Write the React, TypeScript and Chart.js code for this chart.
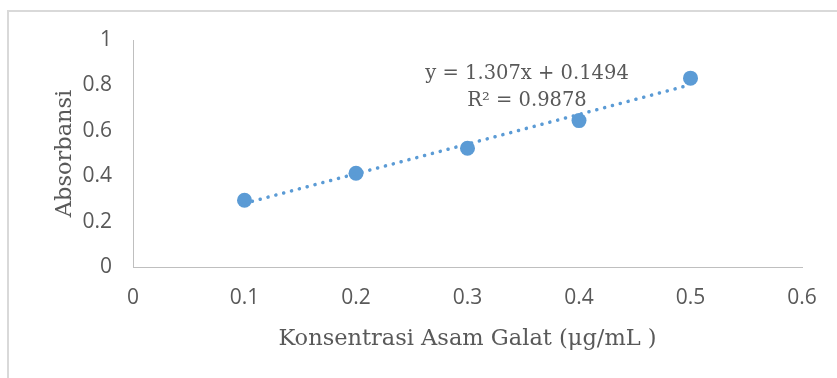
import React, { useEffect, useRef } from "react";
import { Chart, registerables } from "chart.js";

Chart.register(...registerables);

// ---- data ----
const concentrations = [0.1, 0.2, 0.3, 0.4, 0.5];
const absorbances = [0.294, 0.413, 0.523, 0.645, 0.832];
const trendSlope = 1.307;
const trendIntercept = 0.1494;
const trendRange = [0.1, 0.5];
const equationLines = ["y = 1.307x + 0.1494", "R² = 0.9878"];
const equationAnchor = { x: 0.3534, y: 0.852 };
const xAxisTitle = "Konsentrasi Asam Galat (μg/mL )";
const yAxisTitle = "Absorbansi";
const xTicks = { min: 0, max: 0.6, step: 0.1 };
const yTicks = { min: 0, max: 1, step: 0.2 };

const BLUE = "#5B9BD5";
const TEXT = "#595959";
const AXIS = "#BFBFBF";
const TICK_FONT = "'Open Sans'";
const TITLE_FONT = "'DejaVu Serif'";

const fmt = (v: number | string) => {
  const n = Number(v);
  return String(Number(n.toFixed(1)));
};

const equationPlugin = {
  id: "equationLabel",
  afterDatasetsDraw(chart: any) {
    const { ctx, scales } = chart;
    const cx = scales.x.getPixelForValue(equationAnchor.x);
    const cy = scales.y.getPixelForValue(equationAnchor.y);
    const size = 19.5;
    ctx.save();
    ctx.font = `${size}px ${TITLE_FONT}`;
    ctx.fillStyle = TEXT;
    ctx.textAlign = "center";
    ctx.textBaseline = "middle";
    equationLines.forEach((line, i) => {
      ctx.fillText(line, cx, cy + i * 27.5);
    });
    ctx.restore();
  },
};

export default function App() {
  const ref = useRef<HTMLCanvasElement | null>(null);

  useEffect(() => {
    if (!ref.current) return;
    const points = concentrations.map((x, i) => ({ x, y: absorbances[i] }));
    const trend = trendRange.map((x) => ({ x, y: trendSlope * x + trendIntercept }));
    const chart = new Chart(ref.current, {
      type: "scatter",
      data: {
        datasets: [
          {
            label: "Absorbansi",
            data: points,
            backgroundColor: BLUE,
            borderColor: BLUE,
            pointRadius: 7.5,
            pointHoverRadius: 7.5,
            borderWidth: 0,
            order: 2,
          },
          {
            label: "Trend",
            type: "line",
            data: trend,
            borderColor: BLUE,
            borderWidth: 3.5,
            borderDash: [0.1, 8],
            borderCapStyle: "round",
            pointRadius: 0,
            fill: false,
            showLine: true,
            order: 1,
          } as any,
        ],
      },
      options: {
        responsive: false,
        animation: false,
        devicePixelRatio: 1,
        layout: { padding: { left: 0, right: 35, top: 40, bottom: 0 } },
        plugins: {
          legend: { display: false },
          tooltip: { enabled: false },
        },
        scales: {
          x: {
            type: "linear",
            min: xTicks.min,
            max: xTicks.max,
            grid: { display: false, drawTicks: false },
            border: { display: true, color: AXIS, width: 1 },
            ticks: {
              stepSize: xTicks.step,
              padding: 18.5,
              color: TEXT,
              font: { family: TICK_FONT, size: 21 },
              callback: (v: any) => fmt(v),
            },
            title: {
              display: true,
              text: xAxisTitle,
              color: TEXT,
              font: { family: TITLE_FONT, size: 22.5 },
              padding: { top: 0, bottom: 25.5 },
            },
            afterFit: (s: any) => {
              s.height = 111;
            },
          },
          y: {
            type: "linear",
            min: yTicks.min,
            max: yTicks.max,
            grid: { display: false, drawTicks: false },
            border: { display: true, color: AXIS, width: 1 },
            ticks: {
              stepSize: yTicks.step,
              padding: 21,
              color: TEXT,
              font: { family: TICK_FONT, size: 21 },
              callback: (v: any) => fmt(v),
            },
            title: {
              display: true,
              text: yAxisTitle,
              color: TEXT,
              font: { family: TITLE_FONT, size: 22.5 },
              padding: { top: 51.5, bottom: 0 },
            },
            afterFit: (s: any) => {
              s.width = 133;
            },
          },
        },
      },
      plugins: [equationPlugin],
    });
    return () => chart.destroy();
  }, []);

  return (
    <div
      style={{
        position: "fixed",
        left: 0,
        top: 0,
        width: 837,
        height: 378,
        background: "#fff",
        overflow: "hidden",
      }}
    >
      <div
        style={{
          position: "absolute",
          left: 7,
          top: 10,
          width: 900,
          height: 400,
          borderLeft: "2px solid #D9D9D9",
          borderTop: "2px solid #D9D9D9",
        }}
      />
      <canvas
        ref={ref}
        width={837}
        height={378}
        style={{ position: "absolute", left: 0, top: 0, width: 837, height: 378 }}
      />
    </div>
  );
}
